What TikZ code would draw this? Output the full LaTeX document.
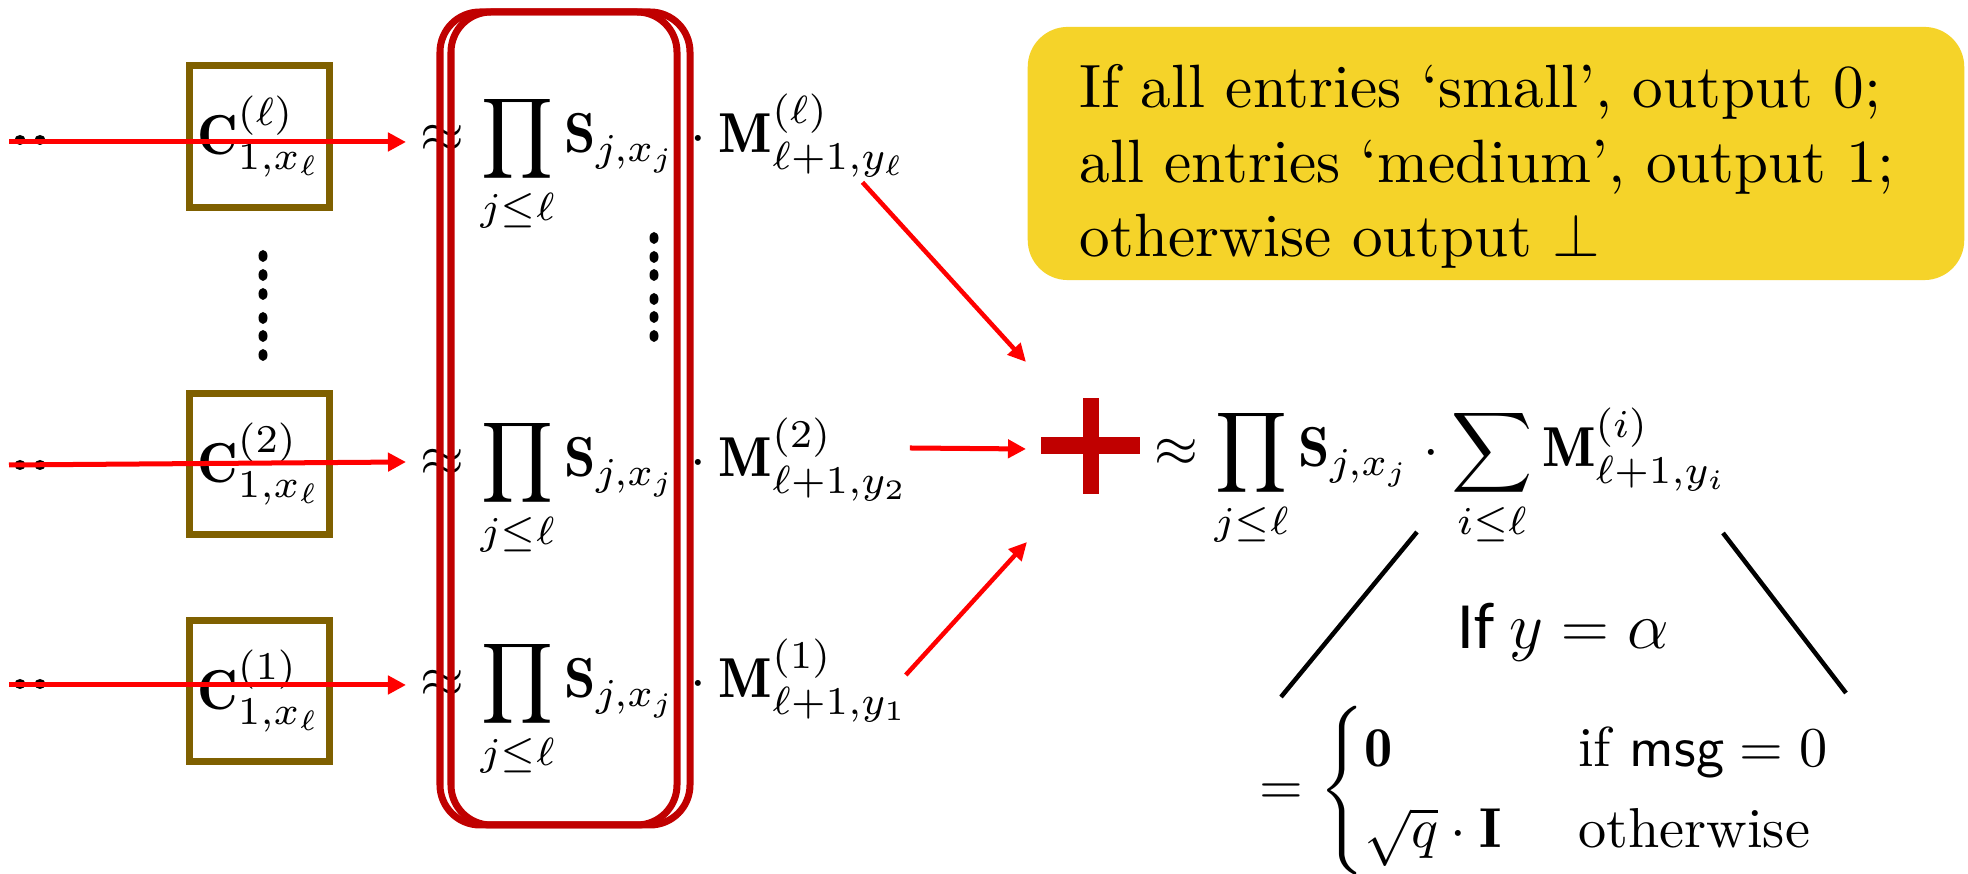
\RequirePackage{fix-cm}
\documentclass[tikz,border=0pt]{standalone}
\usepackage{amsmath}
\usepackage{fontspec}
\newfontfamily\calfont{Carlito}
\usetikzlibrary{arrows.meta,calc}
\definecolor{arrred}{RGB}{255,0,0}
\definecolor{darkred}{RGB}{192,0,0}
\definecolor{cbrown}{RGB}{127,96,0}
\definecolor{gold}{RGB}{245,211,41}
\newcommand{\bigmath}[1]{\scalebox{1.6}{$#1$}}
\begin{document}
\begin{tikzpicture}[x=0.01cm,y=-0.01cm,
  mathtxt/.style={inner sep=0pt, font=\fontsize{10}{12}\selectfont},
  cbox/.style={draw=cbrown, line width=0.07cm, minimum width=1.4cm, minimum height=1.41cm, inner sep=0pt, mathtxt},
  redarr/.style={draw=arrred, line width=0.05cm, -{Triangle[length=0.18cm,width=0.18cm]}},
  diagarr/.style={draw=arrred, line width=0.045cm, -{Triangle[length=0.18cm,width=0.17cm]}},
  framebox/.style={draw=darkred, line width=0.07cm, rounded corners=0.4cm},
  treeline/.style={draw=black, line width=0.045cm},
  vdot/.style={fill=black},
]
\useasboundingbox[fill=white] (0,0) rectangle (1968,874);

% yellow note
\node[fill=gold, rounded corners=0.4cm, minimum width=9.36cm, minimum height=2.53cm, inner sep=0pt] (Y) at (1496,153.5) {};
\node[anchor=north west, inner sep=0pt, font=\fontsize{10}{12.14}\selectfont] (Yt) at ($(Y.north west)+(52,29)$)
  {\scalebox{1.74}{\begin{tabular}{@{}l@{}}If all entries `small', output 0;\\ all entries `medium', output 1;\\ otherwise output $\perp$\end{tabular}}};

% C boxes
\node[cbox] (C3) at (259.5,136.5) {\bigmath{\mathbf{C}^{(\ell)}_{1,x_\ell}}};
\node[cbox] (C2) at (259.5,464) {\bigmath{\mathbf{C}^{(2)}_{1,x_\ell}}};
\node[cbox] (C1) at (259.5,691) {\bigmath{\mathbf{C}^{(1)}_{1,x_\ell}}};

% rows
\node[mathtxt, anchor=base west] (P3) at (420,153) {\bigmath{\approx\displaystyle\prod_{j\le\ell}\mathbf{S}_{j,x_j}}};
\node[mathtxt, anchor=base west] (M3) at (P3.base east) {\bigmath{{}\cdot\mathbf{M}^{(\ell)}_{\ell+1,y_\ell}}};
\node[mathtxt, anchor=base west] (P2) at (420,477) {\bigmath{\approx\displaystyle\prod_{j\le\ell}\mathbf{S}_{j,x_j}}};
\node[mathtxt, anchor=base west] (M2) at (P2.base east) {\bigmath{{}\cdot\mathbf{M}^{(2)}_{\ell+1,y_2}}};
\node[mathtxt, anchor=base west] (P1) at (420,698) {\bigmath{\approx\displaystyle\prod_{j\le\ell}\mathbf{S}_{j,x_j}}};
\node[mathtxt, anchor=base west] (M1) at (P1.base east) {\bigmath{{}\cdot\mathbf{M}^{(1)}_{\ell+1,y_1}}};

% vertical dots
\foreach \yy in {256,275,294,318,336,355} \fill[vdot] (263,\yy) ellipse [x radius=0.045cm, y radius=0.06cm];
\foreach \yy in {238,257,275,299,317,336} \fill[vdot] (654,\yy) ellipse [x radius=0.045cm, y radius=0.06cm];

% left dots
\foreach \yy in {140,465,684} {
  \fill[vdot] (20,\yy) ellipse [x radius=0.055cm, y radius=0.05cm];
  \fill[vdot] (40,\yy) ellipse [x radius=0.055cm, y radius=0.05cm];
}
\coordinate (s3) at (9,142);
\coordinate (s2) at (9,465);
\coordinate (s1) at (9,685);

% left arrows
\draw[redarr] (s3) -- ($(P3.base west)+(-14,-11)$);
\draw[redarr] (s2) -- ($(P2.base west)+(-14,-15)$);
\draw[redarr] (s1) -- ($(P1.base west)+(-14,-13)$);

% red frames
\draw[framebox] (440,12) rectangle (677,825);
\draw[framebox] (451,12) rectangle (690,825);

% plus
\node[minimum width=0.97cm, minimum height=0.94cm, inner sep=0pt] (plus) at (1090.5,446) {};
\fill[darkred] ($(plus.west)+(0,-8.5)$) rectangle ($(plus.east)+(0,8.5)$);
\fill[darkred] ($(plus.north)+(-8,0)$) rectangle ($(plus.south)+(8,0)$);
\coordinate (t3) at (1026,362);
\coordinate (t2) at (1026,449);
\coordinate (t1) at (1027,542);

\draw[diagarr] ($(M3.south east)+(-45,4)$) -- (t3);
\draw[redarr] ($(M2.base east)+(0,-29)$) -- (t2);
\draw[diagarr] ($(M1.base east)+(-4,-23)$) -- (t1);

% right expression
\node[mathtxt, anchor=base west] (R) at (1154,467)
  {\bigmath{\approx\displaystyle\prod_{j\le\ell}\mathbf{S}_{j,x_j}\cdot\sum_{i\le\ell}\mathbf{M}^{(i)}_{\ell+1,y_i}}};

\coordinate (la) at (1417,532);
\coordinate (lb) at (1281,697);
\coordinate (ra) at (1723,533);
\coordinate (rb) at (1846,693);
\draw[treeline] (la) -- (lb);
\draw[treeline] (ra) -- (rb);

\node[anchor=base west, inner sep=0pt, font=\calfont\fontsize{18.8}{22}\selectfont] (cond) at (1457,649) {If $y=\alpha$};

\node[mathtxt, anchor=base west] (K) at (1259,805)
  {\bigmath{=\left\{\def\arraystretch{1.2}\begin{array}{@{}l@{\hspace{0.48cm}}l@{}}
     \mathbf{0} & \text{if } \mathsf{msg}=0\\
     \sqrt{q}\cdot\mathbf{I} & \text{otherwise}
   \end{array}\right.}};
\end{tikzpicture}
\end{document}
